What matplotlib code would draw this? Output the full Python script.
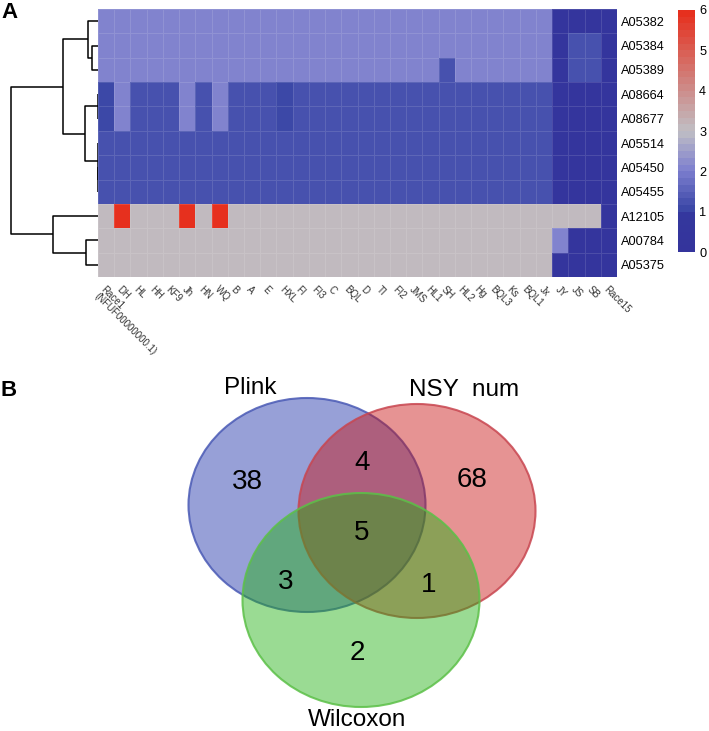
import numpy as np
import matplotlib
matplotlib.use('Agg')
import matplotlib.pyplot as plt
from matplotlib.colors import LinearSegmentedColormap, to_rgba
from matplotlib.patches import Ellipse

plt.rcParams['font.family'] = ['Liberation Sans', 'DejaVu Sans']

# ---- panel A data ----
samples = ['A05382', 'A05384', 'A05389', 'A08664', 'A08677', 'A05514',
           'A05450', 'A05455', 'A12105', 'A00784', 'A05375']
traits = ['Race1\n(NFUF00000000.1)', 'DH', 'HL', 'HH', 'KF9', 'Jh', 'HN', 'WQ',
          'B', 'A', 'E', 'HXL', 'FI', 'FI3', 'C', 'BQL', 'D', 'TI', 'FI2', 'JMS',
          'HL1', 'SH', 'HL2', 'Hg', 'BQL3', 'Ks', 'BQL1', 'Jx', 'JY', 'JS', 'SB',
          'Race15']

row_A05382 = [2.1] * 28 + [0.4, 0.4, 0.4, 0.4]
row_A05384 = [2.1] * 28 + [0.4, 1.2, 1.2, 0.4]
row_A05389 = [2.1] * 21 + [1.2] + [2.1] * 6 + [0.4, 1.2, 1.2, 0.4]
row_A08664 = [1.0, 2.1, 1.2, 1.2, 1.2, 2.1, 1.2, 2.1, 1.2, 1.2, 1.2, 1.0] + [1.2] * 16 + [0.4] * 4
row_A08677 = [1.0, 2.1, 1.2, 1.2, 1.2, 2.1, 1.2, 2.1, 1.2, 1.2, 1.2, 1.0] + [1.2] * 16 + [0.4] * 4
row_A05514 = [1.2] * 28 + [0.4] * 4
row_A05450 = [1.2] * 28 + [0.4] * 4
row_A05455 = [1.2] * 28 + [0.4] * 4
row_A12105 = [3, 6, 3, 3, 3, 6, 3, 6] + [3] * 23 + [0.4]
row_A00784 = [3] * 28 + [2.1, 0.4, 0.4, 0.4]
row_A05375 = [3] * 28 + [0.4] * 4

# row clustering: (left child, right child, height); leaves 0..10, new nodes 11..
merges = [(1, 2, 6), (0, 11, 10), (6, 7, 0.3), (5, 13, 0.3), (3, 4, 0.3),
          (15, 14, 12.3), (12, 16, 34), (9, 10, 11.3), (8, 18, 44), (17, 19, 84.7)]

# ---- panel B data ----
set_names = ['Plink', 'NSY  num', 'Wilcoxon']
region_counts = {'Plink': 38, 'NSY': 68, 'Wilcoxon': 2, 'Plink&NSY': 4,
                 'Plink&Wilcoxon': 3, 'NSY&Wilcoxon': 1, 'all': 5}

data = np.array([row_A05382, row_A05384, row_A05389, row_A08664, row_A08677,
                 row_A05514, row_A05450, row_A05455, row_A12105, row_A00784,
                 row_A05375])

W, H = 709, 731
fig = plt.figure(figsize=(W / 100, H / 100), dpi=100)


def box(x0, y0, x1, y1):
    return [x0 / W, 1 - y1 / H, (x1 - x0) / W, (y1 - y0) / H]


cmap = LinearSegmentedColormap.from_list('hm', [
    (0.0, '#34349c'), (0.165, '#34389e'), (1 / 6, '#3a46a6'),
    (2 / 6, '#7d7fcf'), (3 / 6, '#c0bec4'), (1.0, '#e6301e')], N=36)

# heatmap
ax = fig.add_axes(box(98, 9, 617, 277))
mesh = ax.pcolormesh(np.arange(len(traits) + 1) - 0.5, np.arange(len(samples) + 1) - 0.5,
                     data, cmap=cmap, vmin=0, vmax=6,
                     edgecolors=(1, 1, 1, 0.12), linewidth=0.5)
ax.set_xlim(-0.5, len(traits) - 0.5)
ax.set_ylim(len(samples) - 0.5, -0.5)
for s in ax.spines.values():
    s.set_visible(False)
ax.yaxis.tick_right()
ax.set_yticks(range(len(samples)))
ax.set_yticklabels(samples, fontsize=9.2)
ax.set_xticks(range(len(traits)))
ax.set_xticklabels(traits, fontsize=7, color='#333333', rotation=-45,
                   ha='left', va='top', rotation_mode='anchor', linespacing=1.0)
ax.tick_params(length=0, pad=3)
ax.tick_params(axis='x', pad=5)

# dendrogram
dax = fig.add_axes(box(10, 9, 98, 277))
pos = {i: float(i) for i in range(len(samples))}
hgt = {i: 0.0 for i in range(len(samples))}
for k, (a, b, h) in enumerate(merges):
    node = len(samples) + k
    ya, yb = pos[a], pos[b]
    dax.plot([hgt[a], h, h, hgt[b]], [ya, ya, yb, yb], color='black', lw=1.1,
             solid_capstyle='butt')
    pos[node] = (ya + yb) / 2
    hgt[node] = h
dax.set_xlim(85.5, 0)
dax.set_ylim(len(samples) - 0.5, -0.5)
dax.axis('off')

# colorbar
cax = fig.add_axes(box(678, 10, 695, 252))
cb = fig.colorbar(mesh, cax=cax)
cb.outline.set_visible(False)
cb.set_ticks(range(7))
cax.tick_params(length=0, labelsize=9.2, pad=3)

fig.text(1 / W, 1 - 12 / H, 'A', fontsize=16, fontweight='bold', va='center')

# Venn diagram
vax = fig.add_axes([0, 0, 1, 1], zorder=-1)
vax.set_xlim(0, W)
vax.set_ylim(H, 0)
vax.axis('off')
circles = [((307, 505), '#1a2ea8', '#4a5ab5'),
           ((417, 511), '#c81010', '#c84650'),
           ((361, 600), '#20b010', '#5cc048')]
for (cx, cy), fc, ec in circles:
    vax.add_patch(Ellipse((cx, cy), 237, 214, fc=to_rgba(fc, 0.45),
                          ec=to_rgba(ec, 0.85), lw=1.5))

lfont = dict(fontsize=17.5, ha='center', va='center')
nfont = dict(fontsize=20, ha='center', va='center')
vax.text(250, 388, set_names[0], **lfont)
vax.text(464, 390, set_names[1], **lfont)
vax.text(357, 720, set_names[2], **lfont)
vax.text(247, 482, str(region_counts['Plink']), **nfont)
vax.text(362, 463, str(region_counts['Plink&NSY']), **nfont)
vax.text(472, 480, str(region_counts['NSY']), **nfont)
vax.text(362, 533, str(region_counts['all']), **nfont)
vax.text(286, 582, str(region_counts['Plink&Wilcoxon']), **nfont)
vax.text(429, 585, str(region_counts['NSY&Wilcoxon']), **nfont)
vax.text(357, 653, str(region_counts['Wilcoxon']), **nfont)

fig.text(1 / W, 1 - 390 / H, 'B', fontsize=16, fontweight='bold', va='center')

fig.savefig('out.png', dpi=100)
